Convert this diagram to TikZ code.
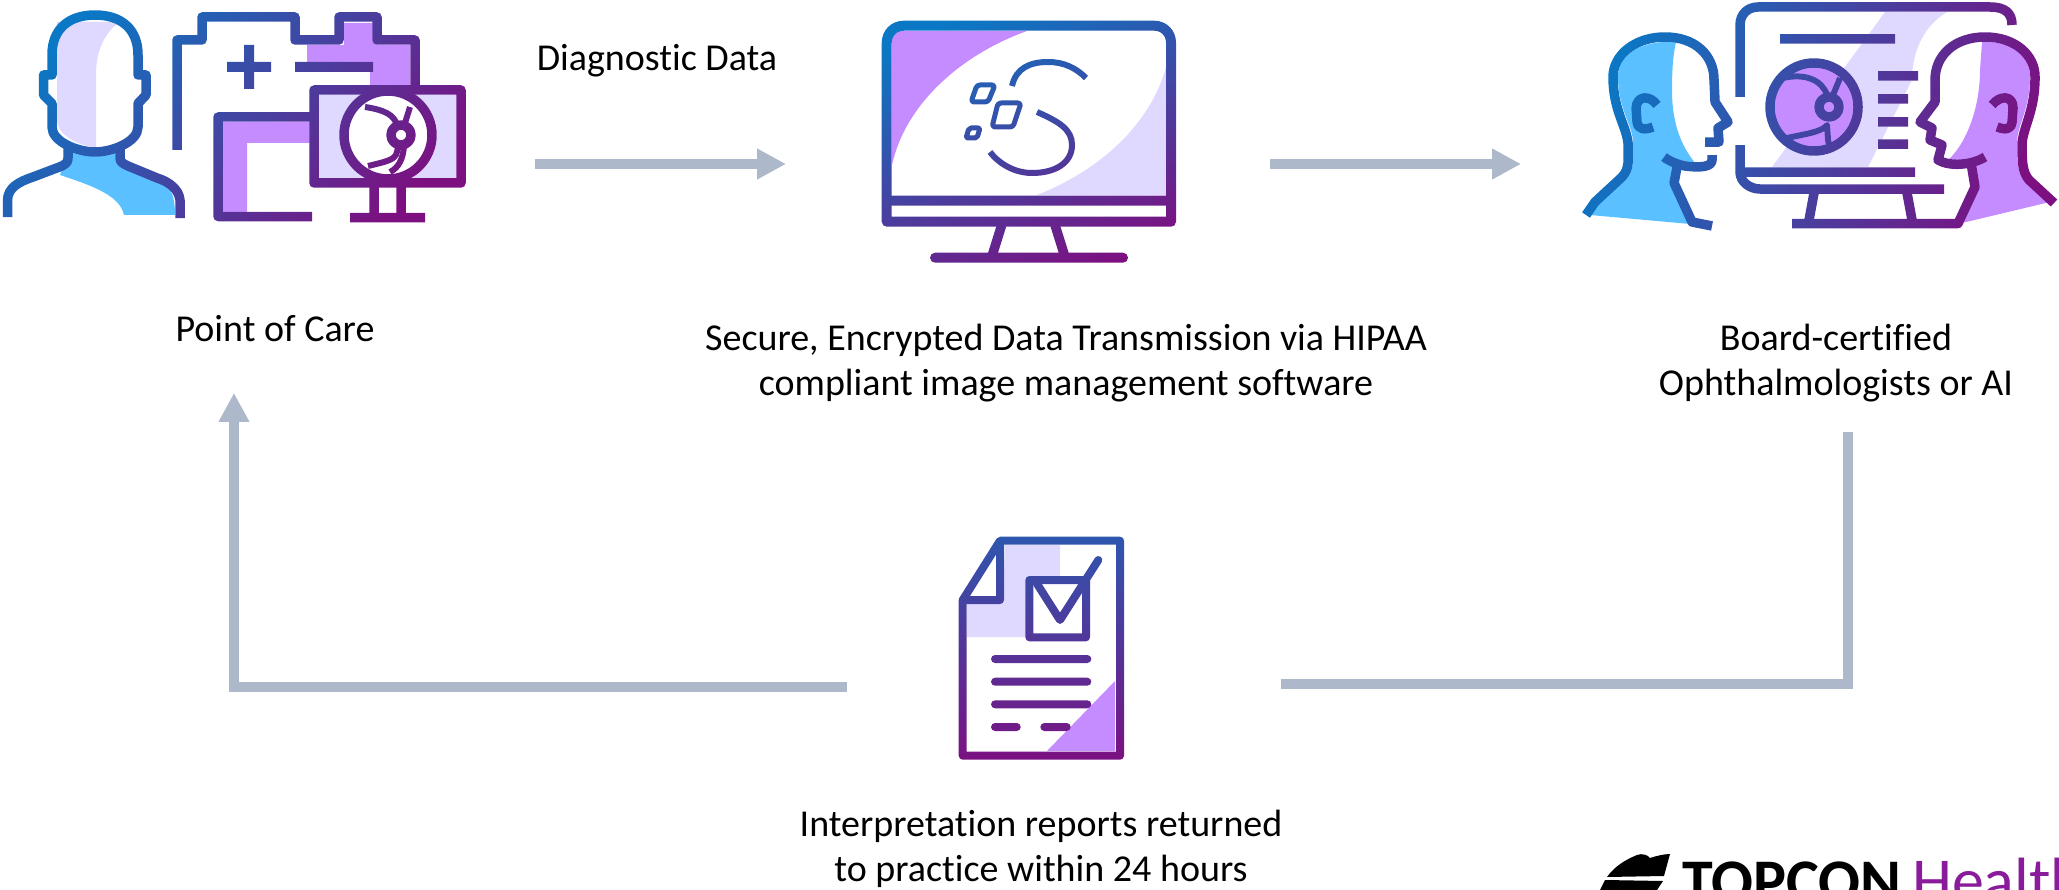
\documentclass[tikz,border=0pt]{standalone}
\usepackage{fontspec}
\setmainfont[Ligatures=NoCommon]{Carlito}
\usetikzlibrary{arrows.meta,fadings}
\definecolor{linkgray}{HTML}{ADB9CA}
\definecolor{iconblue}{HTML}{0A78C4}
\definecolor{iconmid}{HTML}{4A3DA2}
\definecolor{iconpurple}{HTML}{7C1080}
\definecolor{lilac}{HTML}{DFD8FF}
\definecolor{violet}{HTML}{C48CFF}
\definecolor{skyblue}{HTML}{5BC0FF}
\definecolor{healthpurple}{HTML}{8A1C9C}
\tikzset{
    link/.style={draw=linkgray,line width=10pt,line join=miter},
    linkhead/.style={link,-{Triangle[length=29pt,width=29pt]}},
    stroke/.style={draw=transparent!0,line width=9.5pt,line join=round},
    thin stroke/.style={stroke,line width=6pt},
    caption/.style={font=\fontsize{38}{45}\selectfont,align=center},
    iconshade/.style={top color=iconblue,middle color=iconmid,bottom color=iconpurple,fit fading=false},
}

\begin{tikzfadingfrompicture}[name=carefade,x=1pt,y=-1pt]
    \useasboundingbox (0,0) rectangle (480,230);
    \draw[stroke] (7.5,217) -- (7.5,200) .. controls (8,188) and (18,182) .. (33,177) -- (62,166) .. controls (67,163) and (68,162) .. (68,158) -- (68,147);
    \draw[stroke] (180,218) -- (180,200) .. controls (179,190) and (170,182) .. (157,178) -- (128,166) .. controls (122,163) and (120,162) .. (120,158) -- (120,147);
    \draw[stroke] (52,75) -- (43.5,75) -- (43.5,95) -- (52,103.5) -- (52,127) .. controls (52,142) and (78,152) .. (95,152) .. controls (112,152) and (138,142) .. (138,127) -- (138,103.5) -- (146,95) -- (146,75) -- (138,75) -- (138,55) .. controls (138,28) and (120,15) .. (95,15) .. controls (70,15) and (52,28) .. (52,55) -- cycle;
    \draw[stroke] (177,150) -- (177,40) -- (202,40) -- (202,17) -- (295,17) -- (295,40) -- (339,40) -- (339,17) -- (377,17) -- (377,40) -- (415,40) -- (415,87);
    \draw[stroke,line width=10pt] (227,67) -- (271,67);
    \draw[stroke,line width=10pt] (249,45) -- (249,89);
    \draw[stroke,line width=10pt] (295,67) -- (373,67);
    \draw[stroke] (312,216.5) -- (218,216.5) -- (218,117) -- (314,117);
    \draw[stroke] (314,90) rectangle (461,183);
    \draw[stroke] (388,135) circle (44);
    \draw[stroke] (401,135) circle (10);
    \draw[thin stroke] (365,107) .. controls (385,110) and (394,115) .. (397,125);
    \draw[thin stroke] (405,123) -- (410,107);
    \draw[thin stroke] (368,166) .. controls (385,162) and (393,160) .. (396,155) -- (399,145);
    \draw[thin stroke] (404,146) .. controls (403,160) and (398,168) .. (390,172);
    \draw[stroke] (374,183) -- (374,217);
    \draw[stroke] (401,183) -- (401,217);
    \draw[stroke,line join=miter] (350,217.5) -- (425,217.5);
\end{tikzfadingfrompicture}

\begin{tikzfadingfrompicture}[name=screenfade,x=1pt,y=-1pt]
    \useasboundingbox (870,10) rectangle (1190,275);
    \draw[stroke,line width=10pt] (886.7,221.7) -- (886.7,43) .. controls (886.7,33) and (894,25.7) .. (904,25.7) -- (1154,25.7) .. controls (1164,25.7) and (1171,33) .. (1171,43) -- (1171,221.7) -- cycle;
    \draw[stroke,line width=10pt] (886.7,200.7) -- (1171,200.7);
    \draw[stroke] (1001.7,225) -- (991.7,257);
    \draw[stroke] (1055,225) -- (1065,257);
    \draw[stroke,line width=10pt,line cap=round] (935,257.7) -- (1123,257.7);
    \draw[thin stroke] (1012,86) .. controls (1016,68) and (1030,62) .. (1048,62) .. controls (1064,62) and (1076,68) .. (1086,78);
    \draw[thin stroke] (1037,112) .. controls (1060,122) and (1072,130) .. (1072,145) .. controls (1072,163) and (1055,173) .. (1032,173) .. controls (1016,173) and (1000,165) .. (990,152);
    \draw[stroke,line width=5pt,rounded corners=3pt] (977,85) -- (995,85) -- (988,102) -- (971,102) -- cycle;
    \draw[stroke,line width=5pt,rounded corners=3pt] (998,103) -- (1021,103) -- (1013,127) -- (992,127) -- cycle;
    \draw[stroke,line width=5pt,rounded corners=2pt] (969,128) -- (980,128) -- (977,138) -- (966,138) -- cycle;
\end{tikzfadingfrompicture}

\begin{tikzfadingfrompicture}[name=readerfade,x=1pt,y=-1pt]
    \useasboundingbox (1570,0) rectangle (2059,240);
    \draw[stroke] (1586,215) -- (1595,202) -- (1622,177) .. controls (1630,168) and (1628,160) .. (1628,143) .. controls (1626,125) and (1613,110) .. (1613,77) .. controls (1613,55) and (1635,37) .. (1665,37) .. controls (1695,37) and (1714,55) .. (1714,80) -- (1715,102) -- (1728,122) -- (1718,128) -- (1719,142) -- (1705,142);
    \draw[stroke] (1712,155) -- (1712,160) .. controls (1712,167) and (1700,168) .. (1685,166) .. controls (1680,165) and (1670,162) .. (1664,157);
    \draw[stroke,line join=round] (1677,167) -- (1674,183) -- (1692,222) -- (1712,226);
    \draw[stroke] (1657,105) .. controls (1650,95) and (1637,95) .. (1636,108) -- (1637,122) .. controls (1638,130) and (1645,130) .. (1653,127);
    \draw[stroke] (1740,97) -- (1740,25) .. controls (1740,14) and (1748,7) .. (1758,7) -- (1990,7) .. controls (2005,7) and (2012,13) .. (2012,25);
    \draw[stroke] (1740,145) -- (1740,172) -- (1915,172);
    \draw[stroke] (1740,172) .. controls (1740,182) and (1750,189) .. (1760,189) -- (1944,189);
    \draw[stroke] (1780,39) -- (1895,39);
    \draw[stroke] (1878,76) -- (1918,76);
    \draw[stroke] (1878,99) -- (1908,99);
    \draw[stroke] (1878,122) -- (1908,122);
    \draw[stroke] (1878,144) -- (1908,144);
    \draw[stroke] (1814,193) -- (1809,220);
    \draw[stroke] (1907,193) -- (1912,220);
    \draw[stroke] (1792,223.5) -- (1958,223.5) -- (1975,187) -- (1971,163);
    \draw[stroke] (1814,107) circle (44);
    \draw[stroke] (1829,107) circle (10);
    \draw[thin stroke] (1783,78) .. controls (1805,73) and (1822,80) .. (1827,95);
    \draw[thin stroke] (1840,78) -- (1833,95);
    \draw[thin stroke] (1787,138) .. controls (1805,134) and (1822,132) .. (1827,125) -- (1828,140) -- (1830,150);
    \draw[stroke] (2054,203) -- (2029,180) .. controls (2022,172) and (2022,160) .. (2022,143) .. controls (2024,125) and (2035,110) .. (2035,77) .. controls (2035,55) and (2015,37) .. (1985,37) .. controls (1955,37) and (1935,55) .. (1935,80) -- (1935,102) -- (1920,122) -- (1932,128) -- (1930,140) -- (1942,145) -- (1938,160) .. controls (1950,167) and (1972,165) .. (1985,157);
    \draw[stroke] (1992,105) .. controls (2000,95) and (2013,95) .. (2013,108) -- (2012,122) .. controls (2011,130) and (2005,130) .. (1997,127);
\end{tikzfadingfrompicture}

\begin{tikzfadingfrompicture}[name=reportfade,x=1pt,y=-1pt]
    \useasboundingbox (950,530) rectangle (1140,765);
    \draw[stroke,line width=8pt] (962.7,600) -- (1000,540.7) -- (1120,540.7) -- (1120,755.7) -- (962.7,755.7) -- cycle;
    \draw[stroke,line width=8pt] (1000,540.7) -- (1000,600) -- (962.7,600);
    \draw[stroke,line width=8pt] (1029.3,580) rectangle (1086,637.3);
    \draw[stroke,line width=8pt,line cap=round] (1036.7,583.3) -- (1060,620) -- (1098.3,560);
    \draw[stroke,line width=8pt,line cap=round] (995,659) -- (1087.3,659);
    \draw[stroke,line width=8pt,line cap=round] (995,681.7) -- (1087.3,681.7);
    \draw[stroke,line width=8pt,line cap=round] (995,704.3) -- (1087.3,704.3);
    \draw[stroke,line width=8pt,line cap=round] (995,727) -- (1016.7,727);
    \draw[stroke,line width=8pt,line cap=round] (1044.3,727) -- (1066.7,727);
\end{tikzfadingfrompicture}

\begin{document}
\begin{tikzpicture}[x=1pt,y=-1pt]
    \useasboundingbox (0,0) rectangle (2059,890);
    \clip (0,0) rectangle (2059,890);

    % point of care
    \fill[lilac] (57,22) -- (120,22) .. controls (105,32) and (96,50) .. (96,75) -- (96,147) .. controls (80,147) and (57,135) .. (57,120) -- cycle;
    \fill[skyblue] (68,153) -- (117,153) -- (120,165) -- (157,180) .. controls (168,185) and (175,190) .. (175,215) -- (124,215) .. controls (120,195) and (90,185) .. (60,175) -- cycle;
    \fill[violet] (344,23) -- (377,23) -- (377,45) -- (410,45) -- (410,87) -- (370,87) -- (370,63) -- (307,63) -- (307,45) -- (344,45) -- cycle;
    \fill[violet] (223,122) -- (310,122) -- (310,143) -- (247,143) -- (247,212) -- (223,212) -- cycle;
    \fill[lilac] (314,90) rectangle (461,183);
    \fill[white] (388,135) circle (44);
    \shade[iconshade,shading angle=45,path fading=carefade,fading transform={shift={(240,115)}}] (0,0) rectangle (480,230);

    % monitor
    \fill[violet] (892,31) -- (1027,31) .. controls (960,55) and (905,105) .. (892,165) -- cycle;
    \fill[lilac] (1166,67) -- (1166,195) -- (1037,195) .. controls (1100,170) and (1150,125) .. (1166,67);
    \shade[iconshade,shading angle=22,path fading=screenfade,fading transform={shift={(1030,142.5)}}] (870,10) rectangle (1190,275);

    % readers
    \fill[lilac] (1885,12) -- (1947,12) .. controls (1925,25) and (1912,50) .. (1912,80) -- (1868,167) -- (1772,167) -- cycle;
    \fill[skyblue] (1676,42) .. controls (1640,40) and (1618,55) .. (1618,77) .. controls (1618,110) and (1633,125) .. (1633,143) .. controls (1633,160) and (1635,168) .. (1625,180) -- (1598,205) -- (1590,215) -- (1690,224) -- (1674,183) -- (1677,167) -- (1695,163) .. controls (1685,150) and (1672,130) .. (1672,90) .. controls (1672,70) and (1673,55) .. (1676,42);
    \fill[violet] (1982,42) .. controls (2010,40) and (2030,55) .. (2030,77) .. controls (2030,110) and (2017,125) .. (2017,143) .. controls (2017,160) and (2017,170) .. (2025,180) -- (2050,202) -- (1962,223) -- (1975,187) -- (1971,163) -- (1948,160) .. controls (1965,145) and (1980,110) .. (1980,70) -- cycle;
    \fill[violet] (1814,107) circle (44);
    \shade[iconshade,shading angle=70,path fading=readerfade,fading transform={shift={(1814.5,120)}}] (1570,0) rectangle (2059,240);

    % report
    \fill[lilac] (1005,545) -- (1060,545) -- (1060,577) -- (1030,577) -- (1030,637) -- (967,637) -- (967,603) -- (1003,603) -- cycle;
    \fill[violet] (1115,681) -- (1115,751) -- (1047,751) -- cycle;
    \shade[top color=iconblue!70!iconpurple,bottom color=iconpurple,path fading=reportfade,fit fading=false,fading transform={shift={(1045,647.5)}}] (950,530) rectangle (1140,765);

    \node[caption] (diag) at (657,61) {Diagnostic Data};
    \node[caption] (care) at (275,329) {Point of Care};
    \node[caption] (secure) at (1066,363) {Secure, Encrypted Data Transmission via HIPAA\\compliant image management software};
    \node[caption] (board) at (1836,363) {Board-certified\\Ophthalmologists or AI};
    \node[caption] (report) at (1041,849) {Interpretation reports returned\\to practice within 24 hours};

    \coordinate (a1) at (535,164);
    \coordinate (a2) at (786,164);
    \coordinate (b1) at (1270,164);
    \coordinate (b2) at (1521,164);
    \coordinate (c1) at (1848,432);
    \coordinate (c2) at (1848,684);
    \coordinate (c3) at (1281,684);
    \coordinate (d1) at (847,686.5);
    \coordinate (d2) at (234,686.5);
    \coordinate (d3) at (234,393);
    \draw[linkhead] (a1) -- (a2);
    \draw[linkhead] (b1) -- (b2);
    \draw[link] (c1) -- (c2) -- (c3);
    \draw[linkhead] (d1) -- (d2) -- (d3);

    % logo, cut by the page edge
    \fill (1607,877) .. controls (1615,866) and (1625,860) .. (1637,855) .. controls (1642,853) and (1648,855) .. (1650,858) .. controls (1656,856) and (1664,854) .. (1670,854) -- (1664,876) -- cycle;
    \fill (1605,880) -- (1663,881) -- (1657,890) -- (1600,890) -- cycle;
    \node[anchor=base west,inner sep=0pt,font=\bfseries\fontsize{62}{62}\selectfont] (topcon) at (1682,902) {TOPCON};
    \node[anchor=base west,inner sep=0pt,text=healthpurple,font=\fontsize{64}{64}\selectfont] (health) at (1912,902) {Health};
\end{tikzpicture}
\end{document}
